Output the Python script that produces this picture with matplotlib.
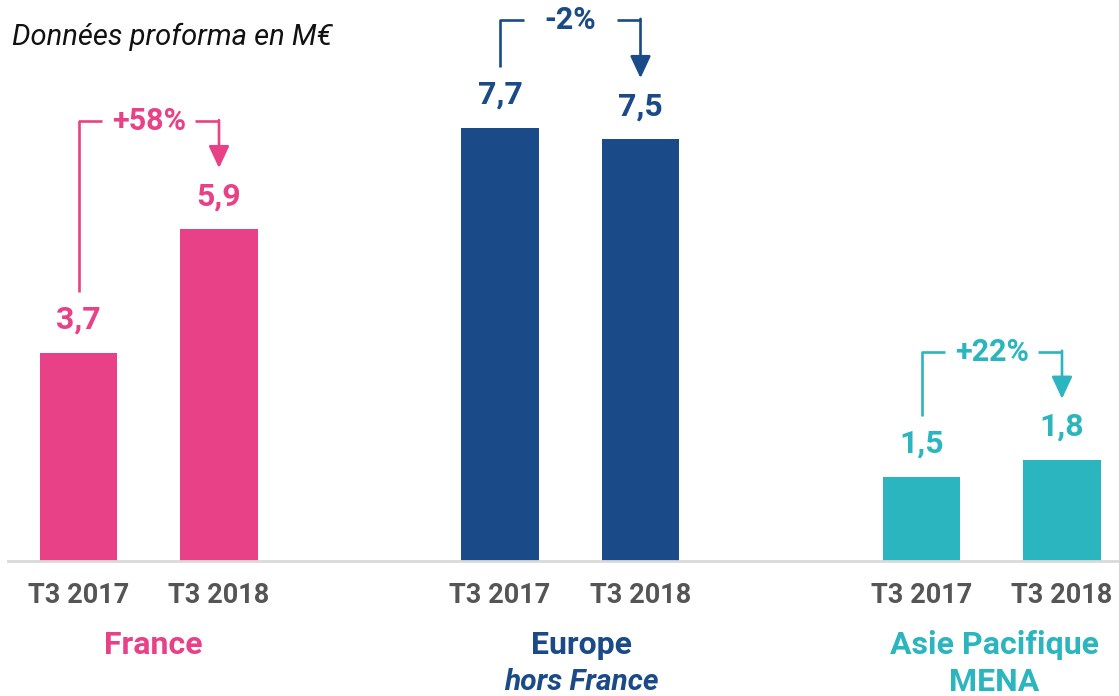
import numpy as np
import matplotlib.pyplot as plt

plt.rcParams['font.family'] = ['Roboto', 'DejaVu Sans']

# data
periods = ['T3 2017', 'T3 2018']
regions = ['France', 'Europe', 'Asie Pacifique']
subtitles = ['', 'hors France', 'MENA']
values_2017 = [3.7, 7.7, 1.5]
values_2018 = [5.9, 7.5, 1.8]
changes = ['+58%', '-2%', '+22%']
colors = ['#E84187', '#1A4A87', '#2BB6BF']

fig = plt.figure(figsize=(11.19, 6.96), dpi=100)
ax = fig.add_axes([8 / 1119, 135 / 696, 1111 / 1119, 561 / 696])

pos = np.array([0, 3, 6])
bar_width = 0.55
px = 1 / 56.25  # one pixel in value units
label_shift = [0.03, 0.08, 0.02]  # group titles sit a bit right of centre

for i in range(3):
    x0, x1 = pos[i], pos[i] + 1
    v0, v1 = values_2017[i], values_2018[i]
    c = colors[i]
    ax.bar([x0, x1], [v0, v1], bar_width, color=c)
    for x, v in ((x0, v0), (x1, v1)):
        ax.text(x, v + 33 * px, f'{v:.1f}'.replace('.', ','), ha='center', va='center',
                fontsize=23, fontweight='bold', color=c)

    # bracket with arrow
    top = max(v0, v1) + 108 * px
    gap = 0.33
    mid = (x0 + x1) / 2
    ax.plot([x0, x0, mid - gap], [v0 + 61 * px, top, top], color=c, lw=1.9,
            solid_capstyle='butt')
    ax.plot([mid + gap, x1], [top, top], color=c, lw=1.9, solid_capstyle='butt')
    ax.annotate('', xy=(x1, v1 + 61 * px), xytext=(x1, top + 1 * px),
                arrowprops=dict(arrowstyle='-|>,head_length=0.9,head_width=0.42',
                                color=c, lw=1.9, mutation_scale=15,
                                shrinkA=0, shrinkB=0))
    ax.text(mid, top, changes[i], ha='center', va='center', fontsize=22,
            fontweight='bold', color=c)

    # group labels
    gx = mid + label_shift[i]
    ax.text(gx, -84 * px, regions[i], ha='center', va='center', fontsize=23,
            fontweight='bold', color=c, clip_on=False)
    if subtitles[i]:
        italic = i == 1
        ax.text(gx, -121 * px, subtitles[i], ha='center', va='center',
                fontsize=21.5 if italic else 23, fontweight='bold',
                fontstyle='italic' if italic else 'normal', color=c, clip_on=False)

ticks = np.concatenate([[p, p + 1] for p in pos])
ax.set_xticks(ticks)
ax.set_xticklabels(periods * 3, fontsize=19.5, fontweight='bold', color='#555555')
ax.tick_params(axis='x', length=0, pad=15)
ax.set_yticks([])

ax.set_xlim(-70.5 / 140.5, (1119 - 78.5) / 140.5)
ax.set_ylim(0, 561 * px)
for s in ['top', 'left', 'right']:
    ax.spines[s].set_visible(False)
ax.spines['bottom'].set_color('#D9D9D9')
ax.spines['bottom'].set_linewidth(2)

fig.text(12 / 1119, 1 - 37 / 696, 'Données proforma en M€', fontsize=21,
         fontstyle='italic', color='#111111', va='center', ha='left')

fig.savefig('out.png', dpi=100)
